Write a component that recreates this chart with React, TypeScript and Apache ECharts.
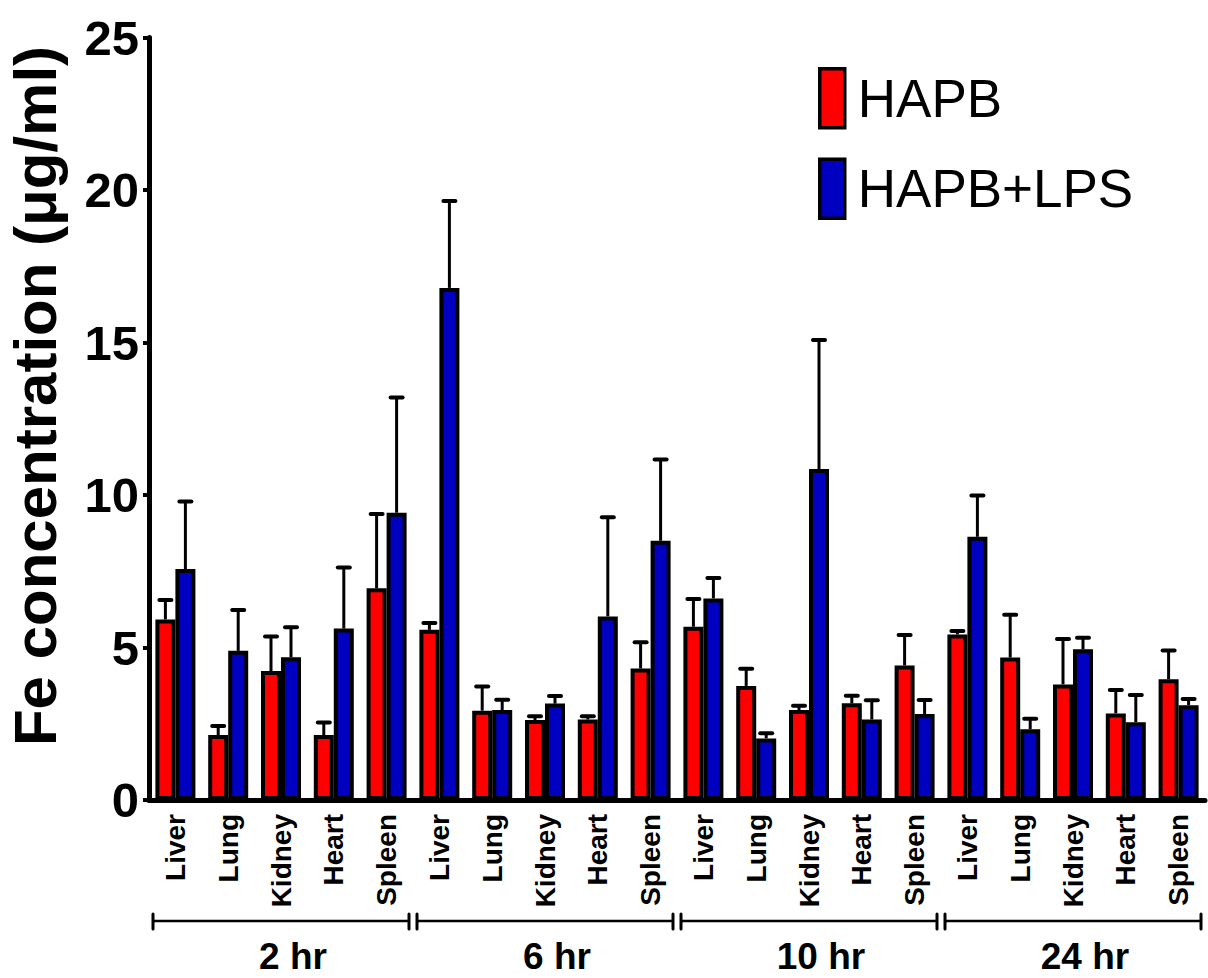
import React, { useEffect, useRef } from "react";
import * as echarts from "echarts";

const organs = ["Liver", "Lung", "Kidney", "Heart", "Spleen"];
const timepoints = ["2 hr", "6 hr", "10 hr", "24 hr"];
const categories = timepoints.flatMap(() => organs);

// HAPB (red)
const hapbMean = [5.92, 2.13, 4.23, 2.13, 6.94, 5.58, 2.93, 2.62, 2.64, 4.31, 5.68, 3.74, 2.95, 3.17, 4.41, 5.43, 4.67, 3.79, 2.84, 3.96];
const hapbSD = [0.64, 0.30, 1.13, 0.41, 2.44, 0.22, 0.79, 0.13, 0.11, 0.86, 0.91, 0.56, 0.14, 0.25, 1.0, 0.11, 1.40, 1.49, 0.77, 0.94];
// HAPB+LPS (blue)
const lpsMean = [7.57, 4.89, 4.68, 5.62, 9.42, 16.79, 2.95, 3.16, 6.02, 8.5, 6.61, 2.02, 10.85, 2.64, 2.82, 8.63, 2.32, 4.94, 2.55, 3.11];
const lpsSD = [2.22, 1.34, 0.98, 2.0, 3.78, 2.85, 0.34, 0.25, 3.25, 2.66, 0.67, 0.17, 4.23, 0.63, 0.46, 1.35, 0.34, 0.38, 0.89, 0.20];

const yTicks = [0, 5, 10, 15, 20, 25];

const FONT = "'Liberation Sans', Arial, Helvetica, sans-serif";
const BAR_W = 20;
const RED = "#FF0000";
const BLUE = "#0000C0";

function errorSeries(means: number[], sds: number[], offset: number) {
  return {
    type: "custom",
    z: 1,
    silent: true,
    encode: { x: 0, y: 1 },
    data: means.map((m, i) => [i, m, sds[i]]),
    renderItem: (params: any, api: any) => {
      const i = api.value(0);
      const m = api.value(1);
      const s = api.value(2);
      const base = api.coord([i, m]);
      const top = api.coord([i, m + s]);
      const x = base[0] + offset;
      return {
        type: "group",
        children: [
          {
            type: "line",
            shape: { x1: x, y1: base[1], x2: x, y2: top[1] },
            style: { stroke: "#000", lineWidth: 3 },
          },
          {
            type: "line",
            shape: { x1: x - 6, y1: top[1], x2: x + 6, y2: top[1] },
            style: { stroke: "#000", lineWidth: 4, lineCap: "round" },
          },
        ],
      };
    },
  };
}

export default function App() {
  const ref = useRef<HTMLDivElement>(null);

  useEffect(() => {
    document.body.style.margin = "0";
    const chart = echarts.init(ref.current!, null, { renderer: "svg" });
    const option: any = {
      animation: false,
      backgroundColor: "#fff",
      grid: { left: 149, right: 3, top: 37.5, bottom: 178, containLabel: false },
      legend: {
        orient: "vertical",
        left: 818,
        top: 67,
        padding: 0,
        itemWidth: 25,
        itemHeight: 59,
        itemGap: 28,
        icon: "rect",
        data: ["HAPB", "HAPB+LPS"],
        selectedMode: false,
        itemStyle: { borderColor: "#000", borderWidth: 3.5 },
        textStyle: {
          fontFamily: FONT,
          fontSize: 53,
          color: "#000",
          padding: [0, 0, 0, 8],
        },
      },
      xAxis: {
        type: "category",
        data: categories,
        axisLine: { lineStyle: { color: "#000", width: 5, cap: "round" } },
        axisTick: { alignWithLabel: true, length: 8, lineStyle: { color: "#000", width: 4 } },
        axisLabel: {
          interval: 0,
          rotate: 90,
          margin: 14,
          fontFamily: FONT,
          fontWeight: "bold",
          fontSize: 28,
          color: "#000",
        },
      },
      yAxis: {
        type: "value",
        min: yTicks[0],
        max: yTicks[yTicks.length - 1],
        interval: 5,
        splitLine: { show: false },
        axisLine: { show: true, lineStyle: { color: "#000", width: 5, cap: "round" } },
        axisTick: { show: true, length: 6, lineStyle: { color: "#000", width: 4 } },
        axisLabel: {
          margin: 10,
          fontFamily: FONT,
          fontWeight: "bold",
          fontSize: 49,
          color: "#000",
        },
      },
      series: [
        {
          name: "HAPB",
          type: "bar",
          barWidth: BAR_W,
          barGap: "0%",
          z: 2,
          data: hapbMean,
          itemStyle: { color: RED, borderColor: "#000", borderWidth: 4 },
        },
        {
          name: "HAPB+LPS",
          type: "bar",
          barWidth: BAR_W,
          barGap: "0%",
          z: 2,
          data: lpsMean,
          itemStyle: { color: BLUE, borderColor: "#000", borderWidth: 4 },
        },
        errorSeries(hapbMean, hapbSD, -BAR_W / 2),
        errorSeries(lpsMean, lpsSD, BAR_W / 2),
      ],
    };
    chart.setOption(option);

    const px = (i: number) => chart.convertToPixel({ xAxisIndex: 0 }, i) as number;
    const y0 = chart.convertToPixel({ yAxisIndex: 0 }, 0) as number;
    const band = px(1) - px(0);
    const bracketY = y0 + 121;
    const graphics: any[] = [
      {
        type: "text",
        x: 35,
        y: 396,
        rotation: Math.PI / 2,
        style: {
          text: "Fe concentration (μg/ml)",
          font: `bold 60px ${FONT}`,
          fill: "#000",
          align: "center",
          verticalAlign: "middle",
        },
      },
    ];
    timepoints.forEach((tp, g) => {
      const start = px(g * 5) - band / 2 + 4;
      const end = px(g * 5 + 4) + band / 2 - 4;
      graphics.push(
        {
          type: "line",
          shape: { x1: start, y1: bracketY, x2: end, y2: bracketY },
          style: { stroke: "#000", lineWidth: 2.5 },
        },
        {
          type: "line",
          shape: { x1: start, y1: bracketY - 7, x2: start, y2: bracketY + 8 },
          style: { stroke: "#000", lineWidth: 3, lineCap: "round" },
        },
        {
          type: "line",
          shape: { x1: end, y1: bracketY - 7, x2: end, y2: bracketY + 8 },
          style: { stroke: "#000", lineWidth: 3, lineCap: "round" },
        },
        {
          type: "text",
          x: px(g * 5 + 2) + 12,
          y: bracketY + 35,
          style: {
            text: tp,
            font: `bold 37px ${FONT}`,
            fill: "#000",
            align: "center",
            verticalAlign: "middle",
          },
        }
      );
    });
    chart.setOption({ graphic: graphics });

    return () => chart.dispose();
  }, []);

  return <div ref={ref} style={{ width: 1208, height: 978 }} />;
}
